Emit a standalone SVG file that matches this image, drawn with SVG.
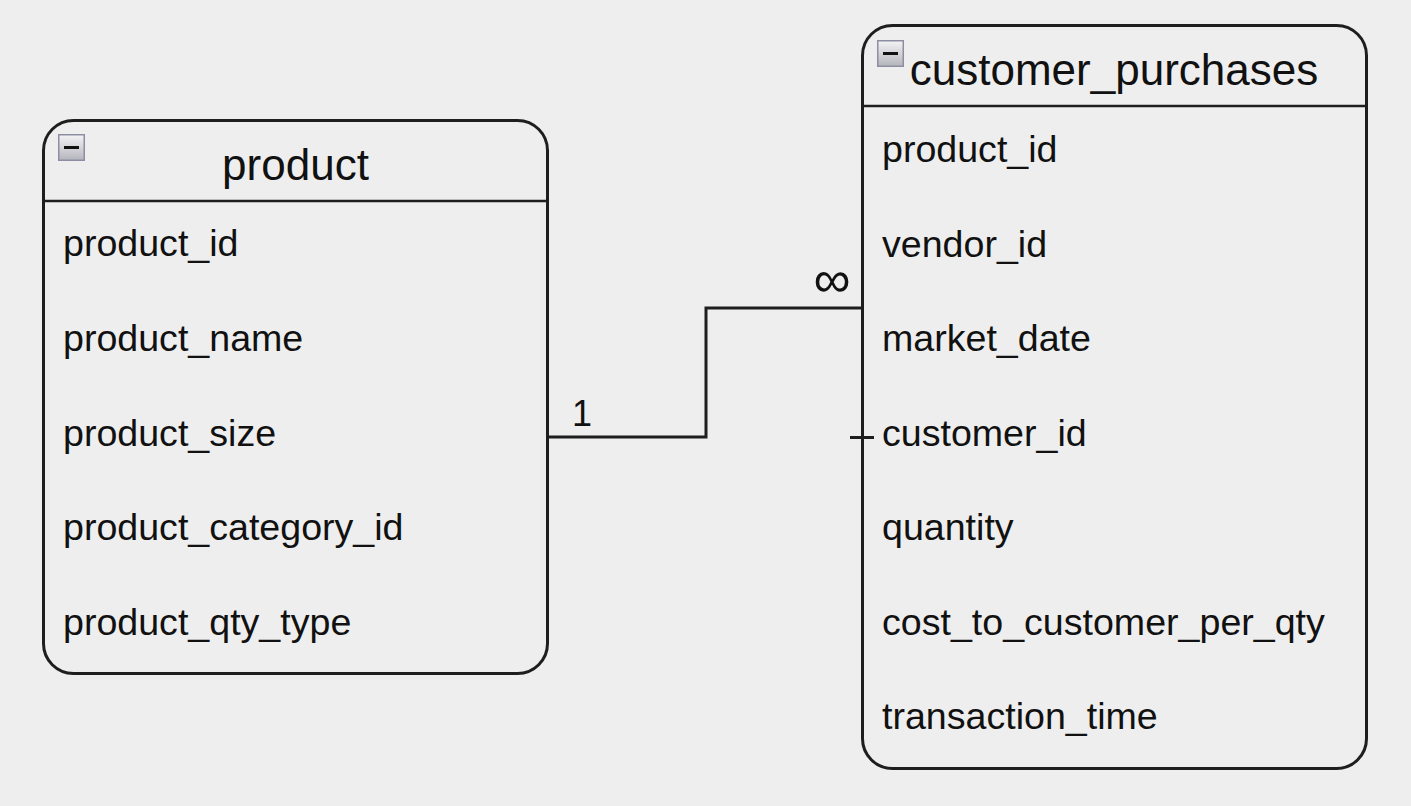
<svg xmlns="http://www.w3.org/2000/svg" width="1411" height="806" viewBox="0 0 1411 806">
<defs>
<linearGradient id="ig" x1="0" y1="0" x2="0" y2="1">
<stop offset="0" stop-color="#f4f4f6"/>
<stop offset="1" stop-color="#b4b4bc"/>
</linearGradient>
<g id="minus">
<rect x="0.75" y="0.75" width="25.5" height="25.5" fill="url(#ig)" stroke="#8e8ea2" stroke-width="1.5"/>
<rect x="6" y="12" width="15" height="3" fill="#111"/>
</g>
</defs>
<style>
.box{fill:none;stroke:#1e1e1e;stroke-width:3}
.sep{stroke:#1e1e1e;stroke-width:2.5}
.hdr{font-family:"Liberation Sans",Arial,sans-serif;font-size:44px;fill:#111}
.row{font-family:"Liberation Sans",Arial,sans-serif;font-size:37.6px;fill:#111}
.lbl{font-family:"Liberation Sans",Arial,sans-serif;font-size:36px;fill:#111}
.con{fill:none;stroke:#1e1e1e;stroke-width:3}
</style>
<rect width="1411" height="806" fill="#eeeeee"/>
<g id="product">
<rect class="box" x="43.5" y="120.5" width="504" height="553" rx="30" ry="30"/>
<line class="sep" x1="43.5" y1="201" x2="547.5" y2="201"/>
<use href="#minus" x="58" y="134"/>
<text class="hdr" x="295.5" y="180" text-anchor="middle">product</text>
<text class="row" x="63" y="256">product_id</text>
<text class="row" x="63" y="351">product_name</text>
<text class="row" x="63" y="446">product_size</text>
<text class="row" x="63" y="540">product_category_id</text>
<text class="row" x="63" y="635">product_qty_type</text>
</g>
<g id="customer_purchases">
<rect class="box" x="862.5" y="25.5" width="504" height="743" rx="30" ry="30"/>
<line class="sep" x1="862.5" y1="106" x2="1366.5" y2="106"/>
<use href="#minus" x="877" y="40"/>
<text class="hdr" x="1114" y="85" text-anchor="middle">customer_purchases</text>
<text class="row" x="882" y="162">product_id</text>
<text class="row" x="882" y="257">vendor_id</text>
<text class="row" x="882" y="351">market_date</text>
<text class="row" x="882" y="446">customer_id</text>
<text class="row" x="882" y="540">quantity</text>
<text class="row" x="882" y="635">cost_to_customer_per_qty</text>
<text class="row" x="882" y="729">transaction_time</text>
</g>
<g id="connectors">
<polyline class="con" points="548,437 706,437 706,308 862,308"/>
<line class="con" x1="850" y1="437.5" x2="874" y2="437.5"/>
<text class="lbl" x="582" y="426" text-anchor="middle">1</text>
<text class="lbl" x="832" y="297" text-anchor="middle" style="font-size:52px">∞</text>
</g>
</svg>
